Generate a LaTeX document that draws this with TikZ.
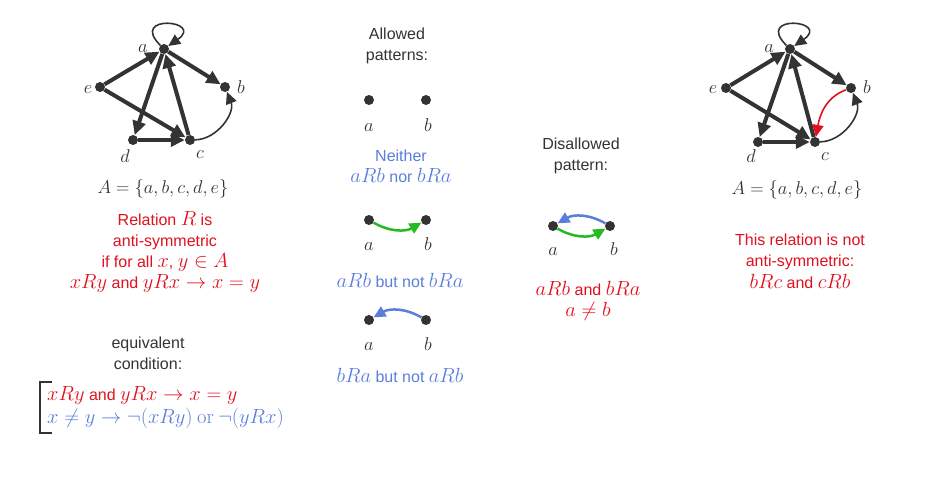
\RequirePackage{fix-cm}
\documentclass[tikz,border=0pt]{standalone}
\usepackage[no-math]{fontspec}
\setmainfont{Liberation Sans}
\usetikzlibrary{arrows.meta}
\DeclareMathSizes{16}{20.5}{14}{10}
\definecolor{dk}{HTML}{333333}
\definecolor{rd}{HTML}{E0101E}
\definecolor{bl}{HTML}{5A7EDB}
\definecolor{gr}{HTML}{22BB22}
\tikzset{
  dot/.style={circle,fill=dk,inner sep=0pt,minimum size=10pt},
  lbl/.style={inner sep=0pt,text=dk,anchor=base,font=\fontsize{18.5}{20}\selectfont},
  gedge/.style={line width=4pt,draw=dk,-{Triangle[length=14pt,width=13pt]}},
  tedge/.style={line width=1.6pt,draw=dk,-{Triangle[length=12pt,width=11pt]}},
  pedge/.style={line width=2.5pt,-{Triangle[length=12pt,width=11pt]}},
  selfloop/.style={out=135,in=35,distance=45pt},
  txt/.style={align=center,inner sep=0pt,font=\fontsize{16}{21.3}\selectfont},
}
\begin{document}
\begin{tikzpicture}[x=1pt,y=-1pt]
\useasboundingbox (0,0) rectangle (932,482);
% ---------- left graph
\node[dot] (a) at (164,49) {};
\node[dot] (b) at (225,87) {};
\node[dot] (c) at (190,140) {};
\node[dot] (d) at (133,140) {};
\node[dot] (e) at (100,87) {};
\node[lbl] (la) at (143,52) {$a$};
\node[lbl] (lb) at (241,93) {$b$};
\node[lbl] (lc) at (200,158) {$c$};
\node[lbl] (ld) at (125,162) {$d$};
\node[lbl] (le) at (88,93) {$e$};
\draw[gedge] (e) -- (a);
\draw[gedge] (a) -- (b);
\draw[gedge] (e) -- (c);
\draw[gedge] (a) -- (d);
\draw[gedge] (d) -- (c);
\draw[gedge] (c) -- (a);
\draw[tedge] (c) to[bend right=55] (b);
\draw[tedge] (a) to[selfloop] (a);
\node[lbl] (setL) at (163,193) {$A=\{a,b,c,d,e\}$};
% ---------- left text
\node[txt,text=rd] (def) at (165,252) {Relation $R$ is\\anti-symmetric\\if for all $x$, $y\in A$\\$xRy$ and $yRx\rightarrow x=y$};
\node[txt,text=dk] (eq) at (148,353) {equivalent\\condition:};
\node[txt,align=left,anchor=west,font=\fontsize{16}{23}\selectfont] (cond) at (47,408) {\textcolor{rd}{$xRy$ and $yRx\rightarrow x=y$}\\\textcolor{bl}{$x\neq y\rightarrow \neg(xRy)\ \mathrm{or}\ \neg(yRx)$}};
\coordinate (br1) at (52,382);
\coordinate (br2) at (40,382);
\coordinate (br3) at (40,433);
\coordinate (br4) at (52,433);
\draw[dk,line width=2pt] (br1) -- (br2) -- (br3) -- (br4);
% ---------- allowed patterns
\node[txt,text=dk] (allow) at (397,46) {Allowed\\patterns:};
\node[dot] (p1a) at (369,100) {};
\node[dot] (p1b) at (426,100) {};
\node[lbl] (p1la) at (369,131) {$a$};
\node[lbl] (p1lb) at (428,131) {$b$};
\node[txt,text=bl] (p1t) at (401,166) {Neither\\$aRb$ nor $bRa$};
\node[dot] (p2a) at (369,220) {};
\node[dot] (p2b) at (426,220) {};
\node[lbl] (p2la) at (369,250) {$a$};
\node[lbl] (p2lb) at (428,250) {$b$};
\draw[pedge,gr] (p2a) to[bend right=30] (p2b);
\node[txt,text=bl] (p2t) at (400,280) {$aRb$ but not $bRa$};
\node[dot] (p3a) at (369,320) {};
\node[dot] (p3b) at (426,320) {};
\node[lbl] (p3la) at (369,350) {$a$};
\node[lbl] (p3lb) at (428,350) {$b$};
\draw[pedge,bl] (p3b) to[bend right=30] (p3a);
\node[txt,text=bl] (p3t) at (400,375) {$bRa$ but not $aRb$};
% ---------- disallowed
\node[txt,text=dk] (dis) at (581,156) {Disallowed\\pattern:};
\node[dot] (qa) at (553,226) {};
\node[dot] (qb) at (610,226) {};
\node[lbl] (qla) at (553,255) {$a$};
\node[lbl] (qlb) at (614,255) {$b$};
\draw[pedge,bl] (qb) to[bend right=30] (qa);
\draw[pedge,gr] (qa) to[bend right=30] (qb);
\node[txt,text=rd] (qt) at (588,301) {$aRb$ and $bRa$\\$a\neq b$};
% ---------- right graph
\node[dot] (A) at (790,49) {};
\node[dot] (B) at (851,88) {};
\node[dot] (C) at (815,142) {};
\node[dot] (D) at (758,142) {};
\node[dot] (E) at (726,88) {};
\node[lbl] (lA) at (769,52) {$a$};
\node[lbl] (lB) at (867,93) {$b$};
\node[lbl] (lC) at (825,160) {$c$};
\node[lbl] (lD) at (751,162) {$d$};
\node[lbl] (lE) at (713,93) {$e$};
\draw[gedge] (E) -- (A);
\draw[gedge] (A) -- (B);
\draw[gedge] (E) -- (C);
\draw[gedge] (A) -- (D);
\draw[gedge] (D) -- (C);
\draw[gedge] (C) -- (A);
\draw[tedge] (C) to[bend right=55] (B);
\draw[tedge,draw=rd] (B) to[out=200,in=80] (C);
\draw[tedge] (A) to[selfloop] (A);
\node[lbl] (setR) at (797,194) {$A=\{a,b,c,d,e\}$};
\node[txt,text=rd] (not) at (800,261) {This relation is not\\anti-symmetric:\\$bRc$ and $cRb$};
\end{tikzpicture}
\end{document}
